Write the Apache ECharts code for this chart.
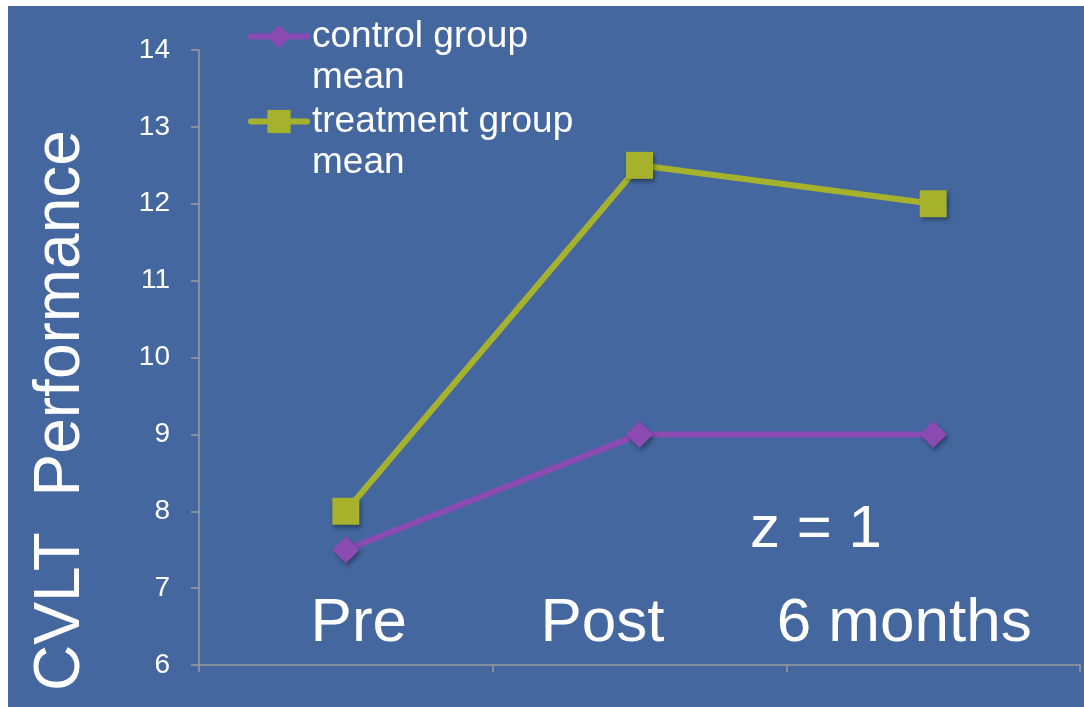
<!DOCTYPE html>
<html>
<head>
<meta charset="utf-8">
<script src="https://cdn.jsdelivr.net/npm/echarts@6/dist/echarts.min.js"></script>
<style>
  html, body { margin: 0; padding: 0; background: #ffffff; }
  #chart { position: absolute; left: 8px; top: 6px; width: 1076px; height: 701px; }
</style>
</head>
<body>
<div id="chart"></div>
<script>
// Study time points and group means
var timePoints = ['Pre', 'Post', '6 months'];
var controlMean = [7.5, 9, 9];
var treatmentMean = [8, 12.5, 12];
var seriesNames = ['control group\nmean', 'treatment group\nmean'];
var yTicks = [6, 7, 8, 9, 10, 11, 12, 13, 14];
var yTitle = 'CVLT  Performance';
var note = 'z = 1';

var FONT = '"Liberation Sans", Arial, sans-serif';
var PURPLE = '#8B4BB2';
var OLIVE = '#A6B22C';
var AXIS = '#9C9C9C';
var markerShadow = {
  shadowBlur: 4, shadowColor: 'rgba(0,0,0,0.35)', shadowOffsetX: 2, shadowOffsetY: 3
};

// per-category text tweaks for the big time-point labels
var labelRich = {
  c0: { padding: [0, 0, 0, 26] },
  c1: { padding: [0, 74, 0, 0] },
  c2: { padding: [0, 58, 0, 0] }
};

var chart = echarts.init(document.getElementById('chart'), null, { renderer: 'canvas' });

// one legend block per series; a blank first line keeps the icon level with the name's first line
function legendBlock(name, color, top) {
  return {
    data: [name],
    left: 240,
    top: top,
    orient: 'vertical',
    padding: 0,
    itemWidth: 56,
    itemHeight: 29,
    selectedMode: false,
    lineStyle: { width: 6, color: color, cap: 'round' },
    formatter: function (n) { return ' \n' + n; },
    textStyle: { color: '#ffffff', fontSize: 37, lineHeight: 41, fontFamily: FONT }
  };
}

chart.setOption({
  backgroundColor: '#44679F',
  animation: false,
  textStyle: { fontFamily: FONT },
  grid: { left: 191, right: 4, top: 44, bottom: 42 },
  legend: [
    legendBlock(seriesNames[0], PURPLE, -31),
    legendBlock(seriesNames[1], OLIVE, 54)
  ],
  xAxis: {
    type: 'category',
    data: timePoints,
    boundaryGap: true,
    axisLine: { lineStyle: { color: AXIS, width: 1.5 } },
    axisTick: { show: true, length: 7, lineStyle: { color: AXIS, width: 1.5 } },
    axisLabel: {
      color: '#ffffff',
      fontSize: 62,
      fontFamily: FONT,
      margin: -10,
      interval: 0,
      hideOverlap: false,
      verticalAlign: 'bottom',
      formatter: function (v, i) { return '{c' + i + '|' + v + '}'; },
      rich: labelRich
    },
    splitLine: { show: false }
  },
  yAxis: {
    type: 'value',
    min: yTicks[0],
    max: yTicks[yTicks.length - 1],
    interval: 1,
    name: yTitle,
    nameLocation: 'middle',
    nameRotate: 90,
    nameGap: 106,
    nameTextStyle: { color: '#ffffff', fontSize: 64, fontFamily: FONT, padding: [0, 106, 0, 0] },
    axisLine: { show: true, lineStyle: { color: AXIS, width: 1.5 } },
    axisTick: { show: true, length: 8, lineStyle: { color: AXIS, width: 1.5 } },
    axisLabel: { color: '#ffffff', fontSize: 28, fontFamily: FONT, margin: 29 },
    splitLine: { show: false }
  },
  series: [
    {
      name: seriesNames[0],
      type: 'line',
      data: controlMean,
      symbol: 'diamond',
      symbolSize: 27,
      color: PURPLE,
      lineStyle: { color: PURPLE, width: 6 },
      itemStyle: Object.assign({ color: PURPLE }, markerShadow),
      z: 3
    },
    {
      name: seriesNames[1],
      type: 'line',
      data: treatmentMean,
      symbol: 'rect',
      symbolSize: 27,
      color: OLIVE,
      lineStyle: { color: OLIVE, width: 6 },
      itemStyle: Object.assign({ color: OLIVE }, markerShadow),
      z: 2
    }
  ],
  graphic: [
    {
      type: 'text',
      left: 742,
      top: 494,
      style: { text: note, fill: '#ffffff', font: '60px ' + FONT }
    }
  ]
});
</script>
</body>
</html>
